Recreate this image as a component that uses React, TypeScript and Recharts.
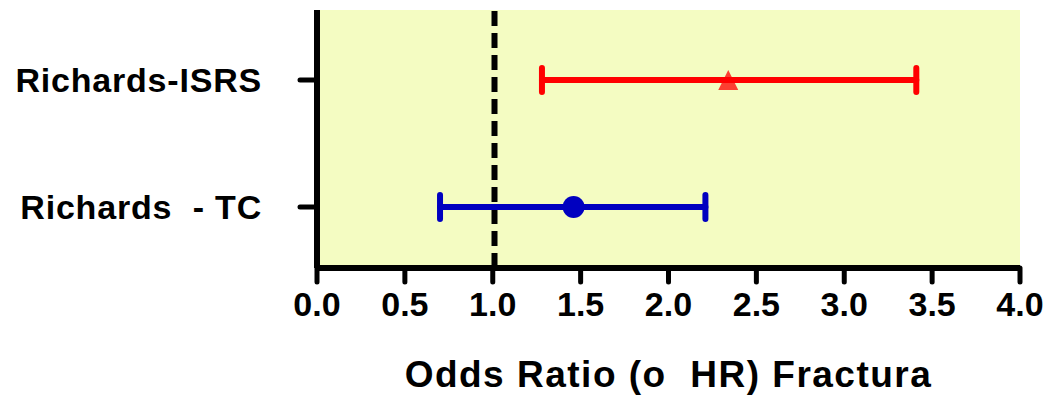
import {
  CartesianGrid,
  ErrorBar,
  ReferenceLine,
  Scatter,
  ScatterChart,
  XAxis,
  YAxis,
} from "recharts";

// extra spaces kept as non-breaking, the text splitter would eat them otherwise
const categories = ["Richards\u00A0 - TC", "Richards-ISRS"];
const oddsRatio = [1.46, 2.34];
const lowerCI = [0.7, 1.28];
const upperCI = [2.21, 3.41];
const xTicks = [0, 0.5, 1, 1.5, 2, 2.5, 3, 3.5, 4];

const FONT = "'Liberation Sans', Arial, sans-serif";

const rows = categories.map((name, i) => ({
  name,
  y: i,
  x: oddsRatio[i],
  err: [oddsRatio[i] - lowerCI[i], upperCI[i] - oddsRatio[i]],
}));

function Dot(props: any) {
  return <circle cx={props.cx} cy={props.cy} r={11} fill="#0000C0" />;
}

function Triangle(props: any) {
  const { cx, cy } = props;
  const s = 10;
  return (
    <polygon
      points={`${cx},${cy - s} ${cx - s},${cy + s} ${cx + s},${cy + s}`}
      fill="#FF0000"
      fillOpacity={0.75}
    />
  );
}

export default function App() {
  return (
    <div style={{ position: "absolute", left: 0, top: 0 }}>
      <ScatterChart
        width={1048}
        height={395}
        margin={{ top: 10, right: 28, bottom: 0, left: 0 }}
      >
        <CartesianGrid horizontal={false} vertical={false} fill="#F4FCC2" />
        <XAxis
          type="number"
          dataKey="x"
          domain={[0, 4]}
          ticks={xTicks}
          tickFormatter={(v) => v.toFixed(1)}
          height={127}
          axisLine={{ stroke: "#000", strokeWidth: 6 }}
          tickLine={{ stroke: "#000", strokeWidth: 5, strokeLinecap: "round" }}
          tickSize={14}
          tickMargin={10}
          tick={{ fill: "#000", fontSize: 34, fontWeight: "bold", fontFamily: FONT }}
          label={{
            value: "Odds Ratio (o\u00A0 HR) Fractura",
            position: "insideBottom",
            offset: 8,
            style: {
              fill: "#000",
              fontSize: 37,
              fontWeight: "bold",
              fontFamily: FONT,
              letterSpacing: 1.5,
            },
          }}
        />
        <YAxis
          type="number"
          dataKey="y"
          domain={[-0.48, 1.55]}
          ticks={[0, 1]}
          tickFormatter={(v) => categories[v]}
          width={317}
          axisLine={{ stroke: "#000", strokeWidth: 6 }}
          tickLine={{ stroke: "#000", strokeWidth: 5, strokeLinecap: "round" }}
          tickSize={17}
          tickMargin={38}
          tick={{
            fill: "#000",
            fontSize: 34,
            fontWeight: "bold",
            fontFamily: FONT,
            letterSpacing: 0.8,
          }}
        />
        <ReferenceLine
          x={1.01}
          stroke="#000"
          strokeWidth={6}
          strokeDasharray="15 7"
        />
        <Scatter data={[rows[0]]} shape={<Dot />} isAnimationActive={false}>
          <ErrorBar
            dataKey="err"
            direction="x"
            width={12}
            stroke="#0000C0"
            strokeWidth={6}
            strokeLinecap="round"
            isAnimationActive={false}
          />
        </Scatter>
        <Scatter data={[rows[1]]} shape={<Triangle />} isAnimationActive={false}>
          <ErrorBar
            dataKey="err"
            direction="x"
            width={12}
            stroke="#FF0000"
            strokeWidth={6}
            strokeLinecap="round"
            isAnimationActive={false}
          />
        </Scatter>
      </ScatterChart>
    </div>
  );
}
